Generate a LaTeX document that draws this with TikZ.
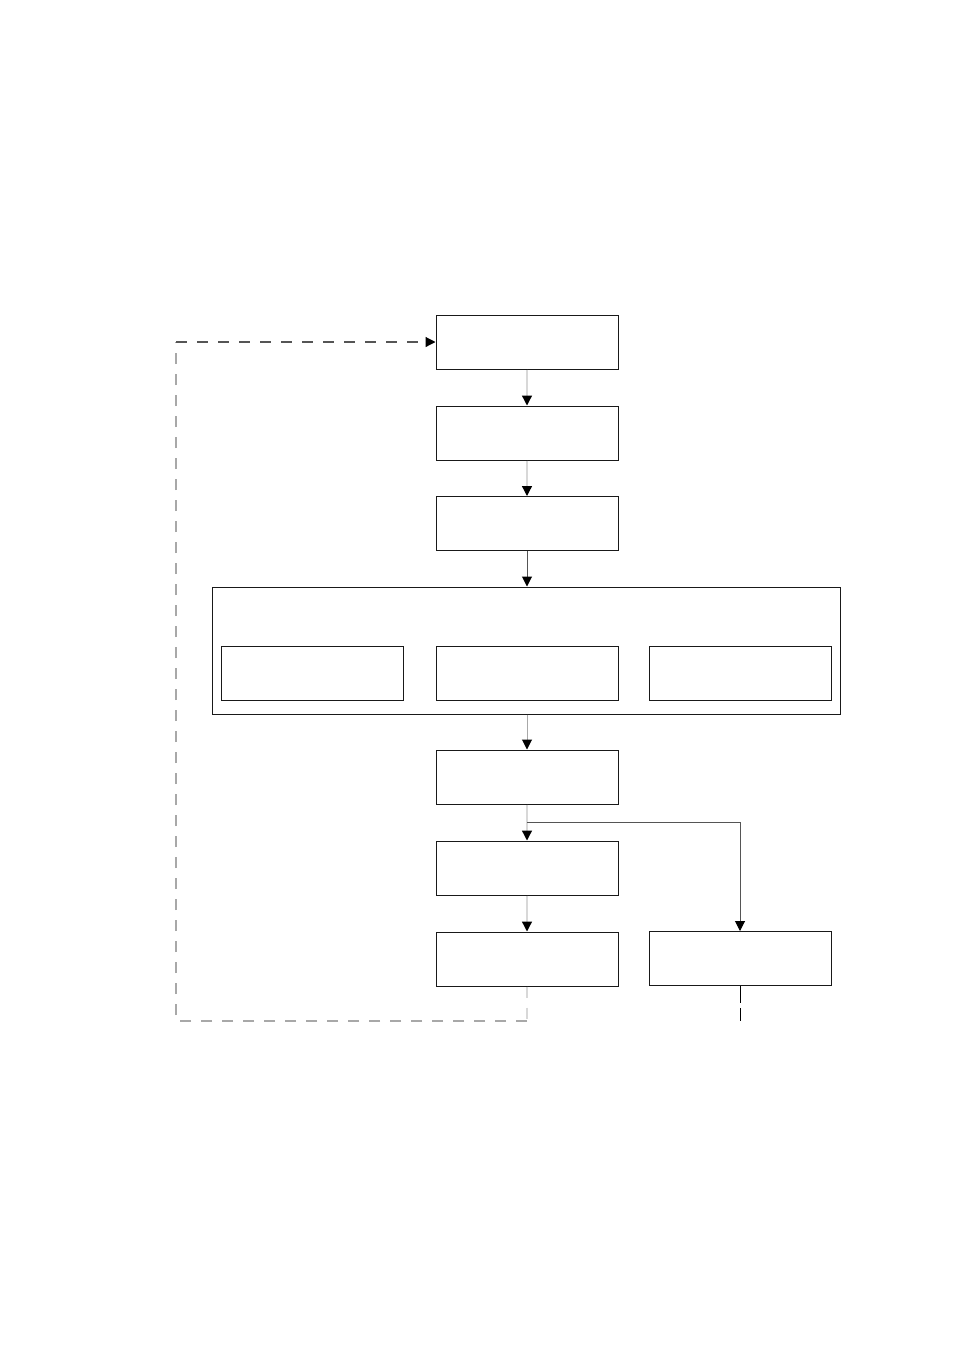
\documentclass[tikz,border=0pt]{standalone}
\usetikzlibrary{arrows.meta}
\definecolor{lightln}{HTML}{D8D8D8}
\definecolor{midln}{HTML}{A8A8A8}
\definecolor{darkln}{HTML}{555555}
\begin{document}
\begin{tikzpicture}[x=1pt,y=-1pt,
  box/.style={draw=black!90,line width=1pt,minimum width=182pt,minimum height=54pt,inner sep=0pt,fill=white},
  tip/.style={-{Triangle[length=10pt,width=10pt,black]}},
  conn/.style={line width=1.3pt},
  dashline/.style={line width=1.2pt,dash pattern=on 11pt off 10pt}]
\useasboundingbox[fill=white] (0,0) rectangle (954,1350);
\node[box] (b1) at (527,342) {};
\node[box] (b2) at (527,433) {};
\node[box] (b3) at (527,523.5) {};
\node[box,minimum width=628pt,minimum height=127pt] (cont) at (526,650.5) {};
\node[box] (c1) at (312,673) {};
\node[box] (c2) at (527,673) {};
\node[box] (c3) at (740,673) {};
\node[box] (b5) at (527,777) {};
\node[box] (b6) at (527,868) {};
\node[box] (b7) at (527,959) {};
\node[box] (b8) at (740,958.5) {};
\coordinate (br) at (527,822);
\coordinate (l1) at (527,1021);
\coordinate (l2) at (176,1021);
\coordinate (l3) at (176,342);
\coordinate (t8) at (740,1021);
\draw[conn,lightln,tip] (b1.south) -- (b2.north);
\draw[conn,lightln,tip] (b2.south) -- (b3.north);
\draw[line width=1pt,darkln,tip] (b3.south) -- (b3.south |- cont.north);
\draw[line width=1pt,midln,tip] (cont.south -| b5) -- (b5.north);
\draw[conn,lightln,tip] (b5.south) -- (b6.north);
\draw[line width=1pt,darkln,tip] (br) -| (b8.north);
\draw[conn,lightln,tip] (b6.south) -- (b7.north);
\draw[dashline,lightln] (b7.south) -- (l1);
\draw[dashline,midln] (l1) -- (l2) -- (l3);
\draw[dashline,darkln,tip] (l3) -- (b1.west);
\draw[line width=1pt,black,dash pattern=on 17pt off 5pt] (b8.south) -- (t8);
\end{tikzpicture}
\end{document}
